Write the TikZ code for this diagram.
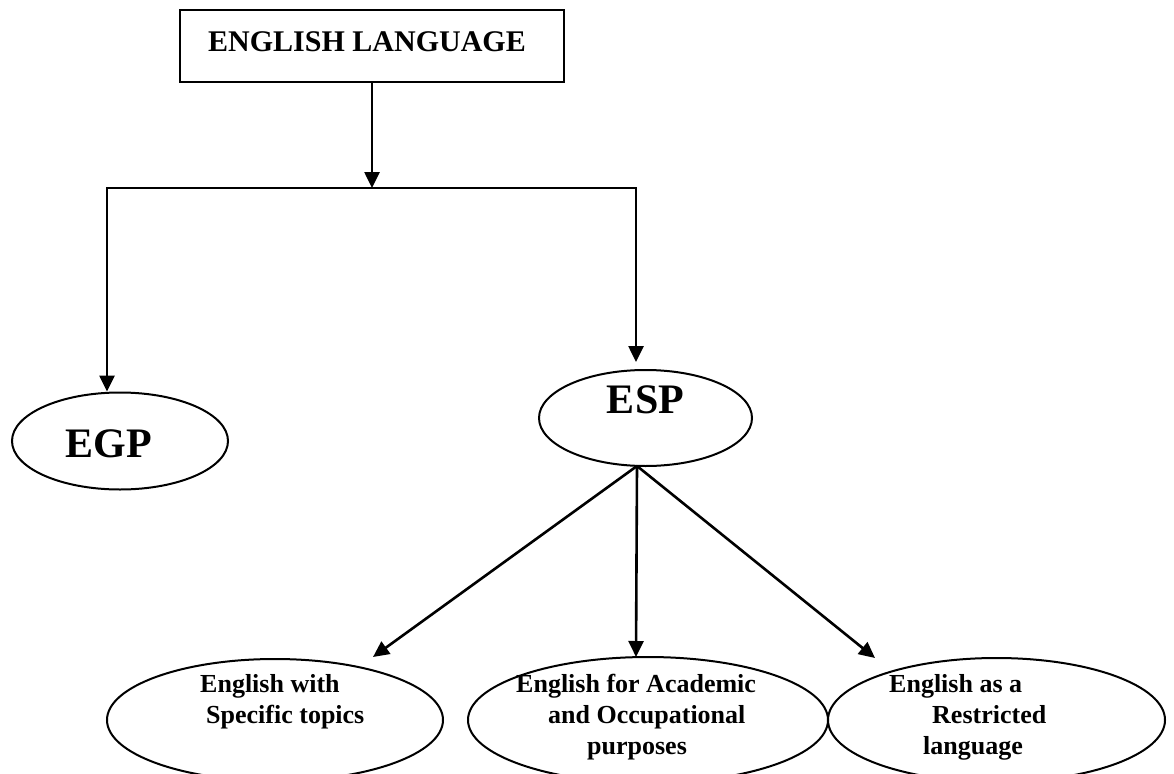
\documentclass[tikz,border=0pt]{standalone}
\usepackage{fontspec}
\setmainfont{Liberation Serif}
\usetikzlibrary{arrows.meta,shapes.geometric}
\begin{document}
\begin{tikzpicture}[x=1pt,y=-1pt,
  conn/.style={line width=2.6pt,-{Triangle[length=16pt,width=15pt]}},
  oval/.style={ellipse,draw,line width=2pt,inner sep=0pt},
  lbl/.style={font=\bfseries\fontsize{26}{32}\selectfont,anchor=base west,inner sep=0pt},
  big/.style={font=\bfseries\fontsize{42}{48}\selectfont,anchor=base,inner sep=0pt}]
\useasboundingbox (0,0) rectangle (1174,773);
\clip (0,0) rectangle (1174,773);

% root box
\node[draw,line width=2.6pt,minimum width=384pt,minimum height=72pt,inner sep=0pt] (root) at (372,46) {};
\node[anchor=base,inner sep=0pt,font=\bfseries\fontsize{30}{36}\selectfont] (roottext) at (367,52) {ENGLISH LANGUAGE};

% second level
\node[oval,minimum width=216pt,minimum height=97pt] (egp) at (120,441) {};
\node[big] (egptext) at (108.5,457) {EGP};
\node[oval,minimum width=213pt,minimum height=96pt] (esp) at (645.5,418) {};
\node[big] (esptext) at (645.5,413) {ESP};

% third level
\node[oval,minimum width=336pt,minimum height=122pt] (est) at (275,720) {};
\node[oval,minimum width=360pt,minimum height=126pt] (eao) at (648,720) {};
\node[oval,minimum width=337pt,minimum height=124pt] (erl) at (996.5,720) {};

\node[lbl] (est1) at (200,692) {English with};
\node[lbl] (est2) at (206,723) {Specific topics};
\node[lbl] (eao1) at (516,692) {English for Academic};
\node[lbl] (eao2) at (548,723) {and Occupational};
\node[lbl] (eao3) at (587,754) {purposes};
\node[lbl] (erl1) at (889,692) {English as a};
\node[lbl] (erl2) at (932,723) {Restricted};
\node[lbl] (erl3) at (923,754) {language};

% branching connectors
\coordinate (split) at (372,188);
\coordinate (lc) at (107,188);
\coordinate (rc) at (636,188);
\draw[conn] (split) -| (lc |- egp.north);
\draw[conn,shorten >=7pt] (split) -| (rc |- esp.north);
\draw[conn] (root.south) -- (split);

\coordinate (fan) at (637,466);
\coordinate (t1) at (373,657);
\coordinate (t2) at (636,657);
\coordinate (t3) at (875,658);
\draw[conn] (fan) -- (t1);
\draw[conn] (fan) -- (t2);
\draw[conn] (fan) -- (t3);
\end{tikzpicture}
\end{document}
